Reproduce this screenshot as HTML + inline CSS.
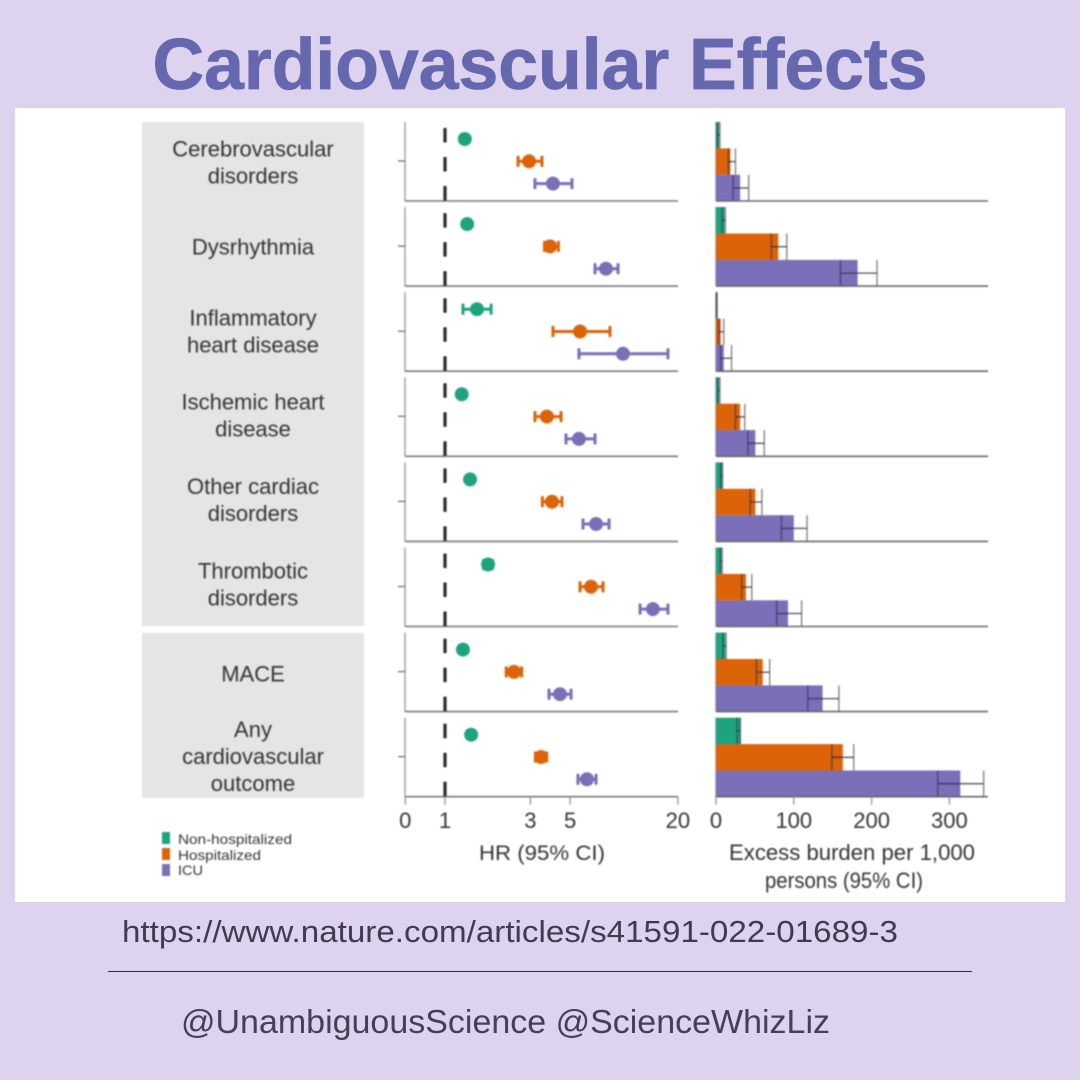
<!DOCTYPE html>
<html lang="en">
<head>
<meta charset="utf-8">
<title>Cardiovascular Effects</title>
<style>
html,body{margin:0;padding:0;width:1080px;height:1080px;overflow:hidden;background:#ded3ef;}
svg{display:block;}
text{font-family:"Liberation Sans",sans-serif;}
#chart-layer{filter:blur(0.7px);}
</style>
</head>
<body>
<svg id="root" xmlns="http://www.w3.org/2000/svg" width="1080" height="1080" viewBox="0 0 1080 1080">
  <rect x="0" y="0" width="1080" height="1080" fill="#ded3ef"/>
  <text x="540" y="89" text-anchor="middle" font-size="72" font-weight="700" fill="#6568ae" stroke="#6568ae" stroke-width="0.8" textLength="775" lengthAdjust="spacingAndGlyphs">Cardiovascular Effects</text>
  <rect x="15" y="108" width="1050" height="794" fill="#ffffff"/>
  <g id="chart-layer">
    <rect x="142" y="122" width="222" height="504" fill="#e5e5e5"/>
    <rect x="142" y="633" width="222" height="165" fill="#e5e5e5"/>
    <g id="labels"></g>
    <g id="hr-chart"></g>
    <g id="burden-chart"></g>
    <g>
      <rect x="162" y="832" width="8" height="12" fill="#1ea37f"/>
      <text x="178" y="844" font-size="14" fill="#333" textLength="114" lengthAdjust="spacingAndGlyphs">Non-hospitalized</text>
      <rect x="162" y="848" width="8" height="12" fill="#dc6308"/>
      <text x="178" y="860" font-size="14" fill="#333" textLength="83" lengthAdjust="spacingAndGlyphs">Hospitalized</text>
      <rect x="162" y="864" width="8" height="12" fill="#7a6fb8"/>
      <text x="178" y="875" font-size="14" fill="#333" textLength="25" lengthAdjust="spacingAndGlyphs">ICU</text>
    </g>
    <text x="542" y="860" text-anchor="middle" font-size="21" fill="#333" textLength="126" lengthAdjust="spacingAndGlyphs">HR (95% CI)</text>
    <text x="852" y="860" text-anchor="middle" font-size="22" fill="#333" textLength="246" lengthAdjust="spacingAndGlyphs">Excess burden per 1,000</text>
    <text x="844" y="888" text-anchor="middle" font-size="22" fill="#333" textLength="158" lengthAdjust="spacingAndGlyphs">persons (95% CI)</text>
  </g>
  <text x="122" y="942" font-size="31" fill="#3f3b52" textLength="776" lengthAdjust="spacingAndGlyphs">https://www.nature.com/articles/s41591-022-01689-3</text>
  <rect x="108" y="971" width="864" height="1" fill="#2f2a45"/>
  <text x="181" y="1033" font-size="33" fill="#453f58" textLength="649" lengthAdjust="spacingAndGlyphs">@UnambiguousScience @ScienceWhizLiz</text>
</svg>
<script>
const categories = ["Cerebrovascular disorders","Dysrhythmia","Inflammatory heart disease","Ischemic heart disease","Other cardiac disorders","Thrombotic disorders","MACE","Any cardiovascular outcome"];
const categoryLines = [["Cerebrovascular","disorders"],["Dysrhythmia"],["Inflammatory","heart disease"],["Ischemic heart","disease"],["Other cardiac","disorders"],["Thrombotic","disorders"],["MACE"],["Any","cardiovascular","outcome"]];

const hrNon = [1.29,1.33,1.51,1.24,1.38,1.74,1.26,1.40];
const hrNonLow = [1.24,1.28,1.26,1.20,1.33,1.64,1.21,1.34];
const hrNonHigh = [1.34,1.38,1.81,1.29,1.43,1.84,1.31,1.46];
const hrHosp = [2.95,3.86,5.68,3.71,3.96,6.54,2.43,3.44];
const hrHospLow = [2.56,3.60,4.01,3.18,3.50,5.68,2.20,3.20];
const hrHospHigh = [3.48,4.30,8.35,4.45,4.50,7.63,2.68,3.70];
const hrIcu = [4.01,7.93,9.87,5.60,6.98,14.5,4.39,6.21];
const hrIcuLow = [3.18,6.89,5.60,4.74,5.90,12.3,3.81,5.53];
const hrIcuHigh = [5.12,9.26,17.6,6.89,8.25,17.6,5.06,6.98];

const burdenNon = [4,11,1,4,8,7,12,32];
const burdenNonLow = [2,8,0.5,2.5,6,5.5,9,27];
const burdenNonHigh = [5,12,1.5,5,8.5,8,13,31];
const burdenHosp = [18.5,80,6,31,50.5,38.5,60,163];
const burdenHospLow = [16,71,3.5,25,44,33,52,149];
const burdenHospHigh = [25,91,10,37,59,46,69,177];
const burdenIcu = [31,182,10,50.5,100,92.5,137,314];
const burdenIcuLow = [22,160,6,41,84,78,118,285];
const burdenIcuHigh = [42,207,20,62,117,110,158,344];

const hrTicks = [0.6,1,3,5,20];
const hrTickLabels = ["0","1","3","5","20"];
const burdenTicks = [0,100,200,300];
const burdenTickLabels = ["0","100","200","300"];
const seriesNames = ["non-hospitalized","hospitalized","icu"];
const seriesColors = ["#1ea37f","#dc6308","#7a6fb8"];

const NS = "http://www.w3.org/2000/svg";
const hrChart = document.getElementById("hr-chart");
const burdenChart = document.getElementById("burden-chart");
const labelLayer = document.getElementById("labels");

function xHR(v){ return 445 + 179 * Math.log10(v); }
function xBurden(v){ return 716 + 0.778 * v; }
function panelTop(i){ return 122 + i * 85.1; }
function panelBase(i){ return panelTop(i) + 79; }
function hrRowY(i, s){ return panelTop(i) + 17 + s * 22.3; }
function barTop(i, s){ return panelTop(i) + s * 26.4; }
function labelCenter(i){ return 162.5 + 84.4 * i + (i === 6 ? 5 : i === 7 ? 3 : 0); }

function make(parent, tag, props, text){
  const el = document.createElementNS(NS, tag);
  for (const k in props) el.setAttribute(k, props[k]);
  if (text !== undefined) el.textContent = text;
  parent.appendChild(el);
  return el;
}

categoryLines.forEach(function(lines, i){
  const startY = labelCenter(i) + 7.5 - (lines.length - 1) * 13.5;
  lines.forEach(function(line, j){
    const t = make(labelLayer, "text", {x:253, y:startY + j * 27, "text-anchor":"middle", "font-size":"22", fill:"#333"}, line);
    
    
  });
});

const hrSeries = [[hrNon,hrNonLow,hrNonHigh],[hrHosp,hrHospLow,hrHospHigh],[hrIcu,hrIcuLow,hrIcuHigh]];
const burdenSeries = [[burdenNon,burdenNonLow,burdenNonHigh],[burdenHosp,burdenHospLow,burdenHospHigh],[burdenIcu,burdenIcuLow,burdenIcuHigh]];

categories.forEach(function(cat, i){
  const top = panelTop(i), base = panelBase(i);

  const yAxis = make(hrChart, "line", {x1:405, x2:405, y1:top, y2:base, stroke:"#a8a8a8", "stroke-width":"1.6"});
  
  
  const yTick = make(hrChart, "line", {x1:398, x2:405, y1:top+39, y2:top+39, stroke:"#666", "stroke-width":"1.2"});
  
  
  const xAxis = make(hrChart, "line", {x1:405, x2:678, y1:base, y2:base, stroke:"#777", "stroke-width":"1.6"});
  
  
  const ref = make(hrChart, "line", {x1:xHR(1), x2:xHR(1), y1:top+6, y2:base, stroke:"#2a2a2a", "stroke-width":"3.2", "stroke-dasharray":"14.5 14.5"});
  
  

  hrSeries.forEach(function(s, si){
    const y = hrRowY(i, si), color = seriesColors[si];
    const lo = xHR(s[1][i]), hi = xHR(s[2][i]), mid = xHR(s[0][i]);
    const ci = make(hrChart, "line", {x1:lo, x2:hi, y1:y, y2:y, stroke:color, "stroke-width":"3"});
    
    
    const capL = make(hrChart, "line", {x1:lo, x2:lo, y1:y-5.5, y2:y+5.5, stroke:color, "stroke-width":"3"});
    
    
    const capH = make(hrChart, "line", {x1:hi, x2:hi, y1:y-5.5, y2:y+5.5, stroke:color, "stroke-width":"3"});
    
    
    const pt = make(hrChart, "circle", {cx:mid, cy:y, r:7, fill:color});
    
    
  });

  const bAxis = make(burdenChart, "line", {x1:xBurden(0), x2:xBurden(0), y1:top, y2:base, stroke:"#999", "stroke-width":"1.4"});
  
  

  burdenSeries.forEach(function(s, si){
    const y0 = barTop(i, si), h = 26.4, color = seriesColors[si];
    const bar = make(burdenChart, "rect", {x:xBurden(0), y:y0, width:xBurden(s[0][i]) - xBurden(0), height:h, fill:color});
    
    
  });
  burdenSeries.forEach(function(s, si){
    const y0 = barTop(i, si), h = 26.4, cy = y0 + h / 2;
    const lo = xBurden(s[1][i]), hi = xBurden(s[2][i]);
    const ci = make(burdenChart, "line", {x1:lo, x2:hi, y1:cy, y2:cy, stroke:"#2f2f4a", "stroke-width":"1.3", opacity:"0.85"});
    
    
    const capL = make(burdenChart, "line", {x1:lo, x2:lo, y1:y0, y2:y0+h, stroke:"#2f2f4a", "stroke-width":"1.3", opacity:"0.7"});
    
    
    const capH = make(burdenChart, "line", {x1:hi, x2:hi, y1:y0, y2:y0+h, stroke:"#444", "stroke-width":"1.3", opacity:"0.7"});
    
    
  });

  const bBase = make(burdenChart, "line", {x1:xBurden(0), x2:988, y1:base, y2:base, stroke:"#666", "stroke-width":"1.6"});
  
  
});

const lastBase = panelBase(categories.length - 1);
hrTicks.forEach(function(v, k){
  const x = xHR(v);
  const tick = make(hrChart, "line", {x1:x, x2:x, y1:lastBase, y2:lastBase+8, stroke:"#999", "stroke-width":"1.4"});
  
  
  const label = make(hrChart, "text", {x:x, y:828, "text-anchor":"middle", "font-size":"22", fill:"#333"}, hrTickLabels[k]);
  
  
});
burdenTicks.forEach(function(v, k){
  const x = xBurden(v);
  const tick = make(burdenChart, "line", {x1:x, x2:x, y1:lastBase, y2:lastBase+8, stroke:"#999", "stroke-width":"1.4"});
  
  
  const label = make(burdenChart, "text", {x:x, y:828, "text-anchor":"middle", "font-size":"22", fill:"#333"}, burdenTickLabels[k]);
  
  
});
</script>
</body>
</html>
